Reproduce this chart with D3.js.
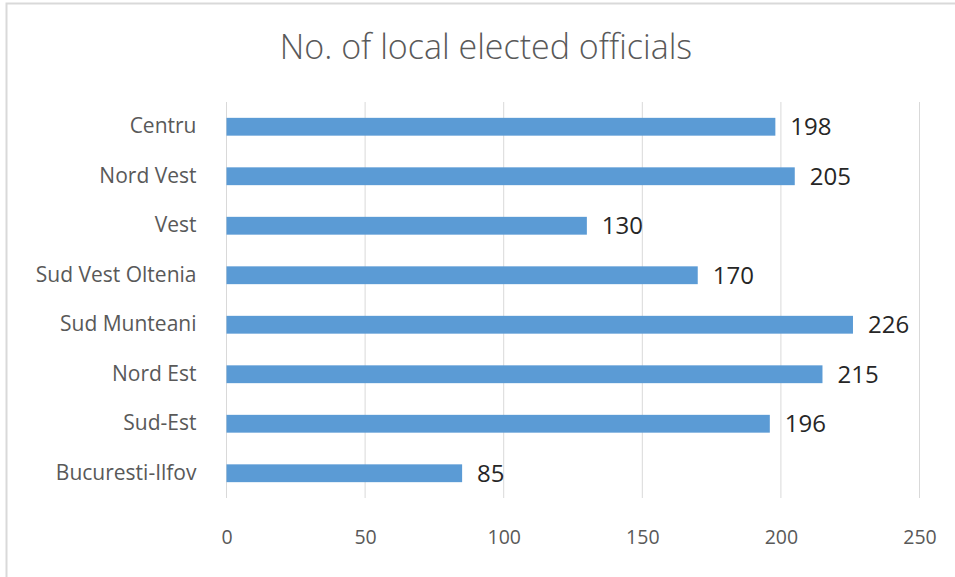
<!DOCTYPE html>
<html>
<head>
<meta charset="utf-8">
<script src="https://cdn.jsdelivr.net/npm/d3@7"></script>
<style>
  body { margin: 0; background: #fff; }
</style>
</head>
<body>
<div class="container"></div>
<script>
// data
var regions = ["Centru", "Nord Vest", "Vest", "Sud Vest Oltenia", "Sud Munteani", "Nord Est", "Sud-Est", "Bucuresti-Ilfov"];
var officials = [198, 205, 130, 170, 226, 215, 196, 85];
var ticks = [0, 50, 100, 150, 200, 250];

var width = 955,
    height = 577;
var margin = {top: 102, right: 35.5, bottom: 79, left: 226.5};

var svg = d3.select(".container").append("svg")
    .attr("width", width)
    .attr("height", height);

// chart frame
svg.append("rect")
    .attr("x", 6.5)
    .attr("y", 3.5)
    .attr("width", 960)
    .attr("height", 580)
    .attr("fill", "none")
    .attr("stroke", "#d9d9d9")
    .attr("stroke-width", 2);

var x = d3.scaleLinear()
    .domain([0, 250])
    .range([margin.left, width - margin.right]);

var y = d3.scaleBand()
    .domain(regions)
    .range([margin.top, height - margin.bottom])
    .paddingInner(0.64)
    .paddingOuter(0.32);

// title
svg.append("text")
    .attr("x", 486)
    .attr("y", 59)
    .attr("text-anchor", "middle")
    .style("font", "300 34px 'Open Sans', sans-serif")
    .attr("fill", "#595959")
    .text("No. of local elected officials");

// gridlines
svg.append("g")
    .selectAll("line")
    .data(ticks)
    .join("line")
      .attr("x1", d => x(d))
      .attr("x2", d => x(d))
      .attr("y1", margin.top)
      .attr("y2", height - margin.bottom)
      .attr("stroke", "#d9d9d9")
      .attr("stroke-width", 1);

// x axis
var xAxis = g => g
    .attr("transform", `translate(0,${height - margin.bottom + 32})`)
    .style("font", "19.5px 'Open Sans', sans-serif")
    .call(d3.axisBottom(x).tickValues(ticks).tickSize(0).tickPadding(0))
    .call(g => g.select(".domain").remove())
    .call(g => g.selectAll("text").attr("fill", "#595959"));

svg.append("g").call(xAxis);

// y axis
var yAxis = g => g
    .attr("transform", `translate(${margin.left - 30},0)`)
    .style("font", "21px 'Open Sans', sans-serif")
    .call(d3.axisLeft(y).tickSize(0).tickPadding(0))
    .call(g => g.select(".domain").remove())
    .call(g => g.selectAll("text").attr("fill", "#595959"));

svg.append("g").call(yAxis);

// bars
svg.append("g")
    .selectAll("rect")
    .data(officials)
    .join("rect")
      .attr("x", x(0))
      .attr("y", (d, i) => y(regions[i]))
      .attr("width", d => x(d) - x(0))
      .attr("height", y.bandwidth())
      .attr("fill", "#5b9bd5");

// value labels
svg.append("g")
    .style("font", "24px 'Open Sans', sans-serif")
    .attr("fill", "#262626")
  .selectAll("text")
  .data(officials)
  .join("text")
    .attr("x", d => x(d) + 15)
    .attr("y", (d, i) => y(regions[i]) + y.bandwidth() / 2)
    .attr("dy", "0.35em")
    .text(d => d);
</script>
</body>
</html>
